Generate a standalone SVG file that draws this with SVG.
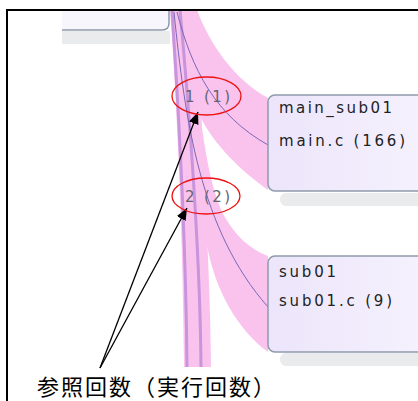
<svg xmlns="http://www.w3.org/2000/svg" width="418" height="401" viewBox="0 0 418 401">
<style>
.band{fill:#f9c3ee}
.vline{fill:none;stroke:#c894dc;stroke-width:3}
.cline{fill:none;stroke:#7a68b4;stroke-width:1}
.node{stroke:#8e9aaa;stroke-width:1.5;fill:url(#ng)}
.shadow{fill:#e9ebed}
.lbl{font-family:"DejaVu Sans","Liberation Sans",sans-serif;font-size:15px;fill:#222}
.cnt{font-family:"DejaVu Sans","Liberation Sans",sans-serif;font-size:15px;fill:#66646e}
.ell{fill:none;stroke:#ee1111;stroke-width:1.3}
.arr{fill:none;stroke:#000;stroke-width:1.3;marker-end:url(#ah)}
.note{font-family:"Noto Sans CJK JP",sans-serif;font-size:22px;fill:#000}
</style>
<defs>
<linearGradient id="ng" x1="0" y1="0" x2="1" y2="0">
<stop offset="0" stop-color="#ece5fb"/>
<stop offset="1" stop-color="#f6f2fd"/>
</linearGradient>
<marker id="ah" markerWidth="12" markerHeight="10" refX="12" refY="5" orient="auto" markerUnits="userSpaceOnUse">
<path d="M0,0 L12,5 L0,10 Z" fill="#000"/>
</marker>
</defs>
<rect x="0" y="0" width="418" height="401" fill="#fff"/>
<g id="node-top">
<rect class="shadow" x="62" y="31" width="108" height="13"/>
<path d="M62,10 L169,10 L169,23 Q169,30 162,30 L62,30 Z" fill="#f8f6fd"/>
<path d="M62,30 L162,30 Q169,30 169,23 L169,10" fill="none" stroke="#8e9aaa" stroke-width="1.5"/>
</g>
<g id="connectors">
<path class="band" d="M172,10 L197,10 C210,45 235,80 268,98 L268,190 C240,170 215,145 202,120 C190,95 180,50 172,10 Z"/>
<path class="band" d="M175,10 L190,10 C198,100 204,170 222,212 C236,238 252,250 268,256 L268,352 C238,330 214,290 206,240 C196,190 184,100 175,10 Z"/>
<path class="band" d="M170,10 L197,10 C200,120 210,250 211,367 L184,367 C183,250 178,120 170,10 Z"/>
<path class="vline" d="M172,10 C178,100 186,250 187,367"/>
<path class="vline" d="M180,10 C190,120 200,250 201,367"/>
<path class="cline" d="M177,12 C192,70 215,115 268,145"/>
<path class="cline" d="M174,12 C185,120 200,230 268,307"/>
<path class="arr" d="M100,368 L198,112"/>
<path class="arr" d="M100,368 L187,208"/>
</g>
<g id="node-main_sub01">
<rect class="shadow" x="280" y="193" width="150" height="13" rx="6"/>
<rect class="node" x="268" y="95" width="170" height="96" rx="7"/>
<text class="lbl" x="279" y="113" textLength="113" lengthAdjust="spacing">main_sub01</text>
<text class="lbl" x="279" y="146" textLength="126" lengthAdjust="spacing">main.c (166)</text>
</g>
<g id="node-sub01">
<rect class="shadow" x="280" y="353" width="150" height="13" rx="6"/>
<rect class="node" x="268" y="256" width="170" height="96" rx="7"/>
<text class="lbl" x="279" y="277" textLength="57" lengthAdjust="spacing">sub01</text>
<text class="lbl" x="279" y="306" textLength="113" lengthAdjust="spacing">sub01.c (9)</text>
</g>
<g id="counts">
<text class="cnt" x="185" y="102" textLength="45" lengthAdjust="spacing">1 (1)</text>
<text class="cnt" x="185" y="202" textLength="45" lengthAdjust="spacing">2 (2)</text>
<ellipse class="ell" cx="206.5" cy="96" rx="34.5" ry="19"/>
<ellipse class="ell" cx="206" cy="196" rx="34" ry="18"/>
</g>
<g id="note">
<text class="note" x="37" y="395" textLength="238" lengthAdjust="spacing">参照回数（実行回数）</text>
</g>
<rect x="7" y="10" width="600" height="600" fill="none" stroke="#000" stroke-width="2"/>
</svg>
